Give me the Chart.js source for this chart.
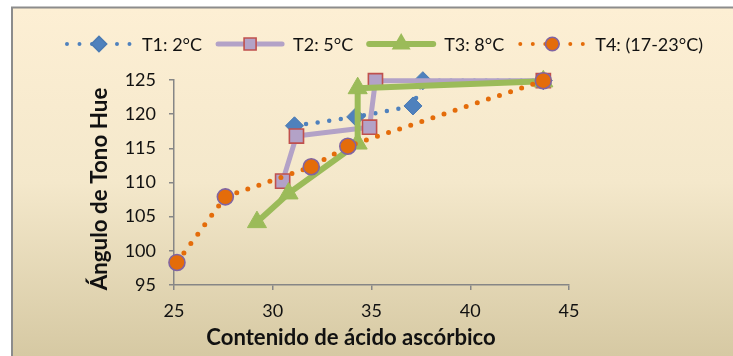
<!DOCTYPE html>
<html>
<head>
<meta charset="utf-8">
<script src="https://cdn.jsdelivr.net/npm/chart.js@4.4.1/dist/chart.umd.min.js"></script>
<style>
  html, body { margin: 0; padding: 0; background: #fff; }
  canvas { display: block; }
</style>
</head>
<body>
<canvas id="hueChart" width="733" height="356"></canvas>
<script>
// Ángulo de tono Hue frente al contenido de ácido ascórbico, por tratamiento
const seriesNames = ['T1: 2°C', 'T2: 5°C', 'T3: 8°C', 'T4: (17-23°C)'];

const t1Acido = [31.1, 34.2, 37.1, 37.6, 43.7];
const t1Hue   = [118.3, 119.6, 121.2, 124.9, 124.9];

const t2Acido = [30.5, 31.2, 34.9, 35.2, 43.7];
const t2Hue   = [110.2, 116.8, 118.1, 124.9, 124.9];

const t3Acido = [29.2, 30.8, 34.3, 34.3, 43.7];
const t3Hue   = [104.2, 108.4, 115.7, 123.8, 124.8];

const t4Acido = [25.15, 27.6, 31.95, 33.8, 43.7];
const t4Hue   = [98.3, 107.9, 112.3, 115.3, 124.9];

const xTicks = [25, 30, 35, 40, 45];
const yTicks = [95, 100, 105, 110, 115, 120, 125];

const xTitle = 'Contenido de ácido ascórbico';
const yTitle = 'Ángulo de Tono Hue';

const FONT = 'Lato, "Open Sans", sans-serif';
const AXIS_GREY = '#868686';

function toPoints(xs, ys) {
  return xs.map((x, i) => ({ x: x, y: ys[i] }));
}

// line + marker look of each series (also reused for the legend samples)
const styles = [
  { line: '#4f81bd', width: 4.5, dash: [0, 11.7], marker: 'rectRot', radius: 9,  fill: '#4f81bd', border: '#4a7ab3', borderWidth: 1 },
  { line: '#b3a2c7', width: 5,   dash: [],        marker: 'rect',    radius: 10, fill: '#b3a2c7', border: '#c0504d', borderWidth: 1.6 },
  { line: '#9bbb59', width: 6,   dash: [],        marker: 'triangle',radius: 11, fill: '#9bbb59', border: '#9bbb59', borderWidth: 1 },
  { line: '#e46c0a', width: 5,   dash: [0, 11.7], marker: 'circle',  radius: 8,  fill: '#e46c0a', border: '#8064a2', borderWidth: 1.6 }
];

const values = [
  toPoints(t1Acido, t1Hue),
  toPoints(t2Acido, t2Hue),
  toPoints(t3Acido, t3Hue),
  toPoints(t4Acido, t4Hue)
];

const datasets = seriesNames.map((name, i) => ({
  label: name,
  data: values[i],
  showLine: true,
  clip: false,
  order: 3 - i, // T4 on top, T1 underneath
  borderColor: styles[i].line,
  borderWidth: styles[i].width,
  borderDash: styles[i].dash,
  borderCapStyle: 'round',
  borderJoinStyle: 'round',
  tension: 0,
  pointStyle: styles[i].marker,
  pointRadius: styles[i].radius,
  pointHoverRadius: styles[i].radius,
  pointBackgroundColor: styles[i].fill,
  pointBorderColor: styles[i].border,
  pointBorderWidth: styles[i].borderWidth
}));

// cream-to-tan panel with the grey frame on the left and top
const backgroundPlugin = {
  id: 'panel',
  beforeDraw(chart) {
    const { ctx, width, height } = chart;
    ctx.save();
    ctx.fillStyle = '#ffffff';
    ctx.fillRect(0, 0, width, height);
    const g = ctx.createLinearGradient(0, 8, 0, height);
    g.addColorStop(0, '#fdefd4');
    g.addColorStop(0.5, '#f4e8cb');
    g.addColorStop(1, '#d6c9a3');
    ctx.fillStyle = g;
    ctx.fillRect(12, 8, width - 12, height - 8);
    ctx.strokeStyle = '#8c8c8c';
    ctx.lineWidth = 2;
    ctx.beginPath();
    ctx.moveTo(12, height);
    ctx.lineTo(12, 7.5);
    ctx.lineTo(width, 7.5);
    ctx.stroke();
    ctx.restore();
  }
};

function drawMarker(ctx, st, x, y, scale) {
  ctx.save();
  ctx.fillStyle = st.fill;
  ctx.strokeStyle = st.border;
  Chart.helpers.drawPoint(ctx, {
    pointStyle: st.marker,
    radius: st.radius * scale,
    rotation: 0,
    borderWidth: st.borderWidth
  }, x, y);
  ctx.restore();
}

// bold title font sized so the text spans the given width
function fitBold(ctx, text, targetWidth) {
  ctx.font = 'bold 20px ' + FONT;
  const size = 20 * targetWidth / ctx.measureText(text).width;
  ctx.font = 'bold ' + size.toFixed(1) + 'px ' + FONT;
}

// legend with line samples and axis titles
const labelsPlugin = {
  id: 'labels',
  afterDraw(chart) {
    const ctx = chart.ctx;
    ctx.save();
    ctx.font = '18px ' + FONT;
    ctx.textBaseline = 'middle';
    const sampleW = 70, textGap = 8, itemGap = 13, legendY = 44;
    const widths = seriesNames.map(n => ctx.measureText(n).width);
    const total = widths.reduce((a, b) => a + b, 0) + seriesNames.length * (sampleW + textGap) + (seriesNames.length - 1) * itemGap;
    let x = 383.5 - total / 2;
    seriesNames.forEach((name, i) => {
      const st = styles[i];
      ctx.save();
      ctx.strokeStyle = st.line;
      ctx.lineCap = 'round';
      if (st.dash.length) {
        ctx.lineWidth = 4;
        ctx.setLineDash([0, 12.5]);
        ctx.beginPath();
        ctx.moveTo(x + 3, legendY);
        ctx.lineTo(x + sampleW, legendY);
        ctx.stroke();
      } else {
        ctx.lineWidth = st.width;
        ctx.beginPath();
        ctx.moveTo(x + 3, legendY);
        ctx.lineTo(x + sampleW - 3, legendY);
        ctx.stroke();
      }
      ctx.restore();
      drawMarker(ctx, st, x + sampleW / 2, legendY, 0.85);
      ctx.fillStyle = '#111';
      ctx.textAlign = 'left';
      ctx.fillText(name, x + sampleW + textGap, legendY + 1);
      x += sampleW + textGap + widths[i] + itemGap;
    });

    ctx.fillStyle = '#111';
    ctx.textAlign = 'center';
    fitBold(ctx, xTitle, 289);
    ctx.fillText(xTitle, 351, 338);
    fitBold(ctx, yTitle, 203);
    ctx.translate(100, 189);
    ctx.rotate(-Math.PI / 2);
    ctx.fillText(yTitle, 0, 0);
    ctx.restore();
  }
};

const axisStyle = {
  grid: {
    display: true,
    drawOnChartArea: false,
    drawTicks: true,
    tickLength: 5,
    color: AXIS_GREY,
    lineWidth: 1.5
  },
  border: { display: true, color: AXIS_GREY, width: 1.5 }
};

new Chart(document.getElementById('hueChart'), {
  type: 'scatter',
  data: { datasets: datasets },
  options: {
    responsive: false,
    animation: false,
    events: [],
    layout: { padding: { top: 80, right: 164, bottom: 0, left: 0 } },
    plugins: {
      legend: { display: false },
      tooltip: { enabled: false }
    },
    scales: {
      x: {
        type: 'linear',
        min: xTicks[0],
        max: xTicks[xTicks.length - 1],
        ...axisStyle,
        afterFit: s => { s.height = 71; },
        afterBuildTicks: s => { s.ticks = xTicks.map(v => ({ value: v })); },
        ticks: { color: '#111', font: { family: FONT, size: 18 }, padding: 10 }
      },
      y: {
        type: 'linear',
        min: yTicks[0],
        max: yTicks[yTicks.length - 1],
        ...axisStyle,
        afterFit: s => { s.width = 174; },
        afterBuildTicks: s => { s.ticks = yTicks.map(v => ({ value: v })); },
        ticks: { color: '#111', font: { family: FONT, size: 18 }, padding: 13 }
      }
    }
  },
  plugins: [backgroundPlugin, labelsPlugin]
});
</script>
</body>
</html>
